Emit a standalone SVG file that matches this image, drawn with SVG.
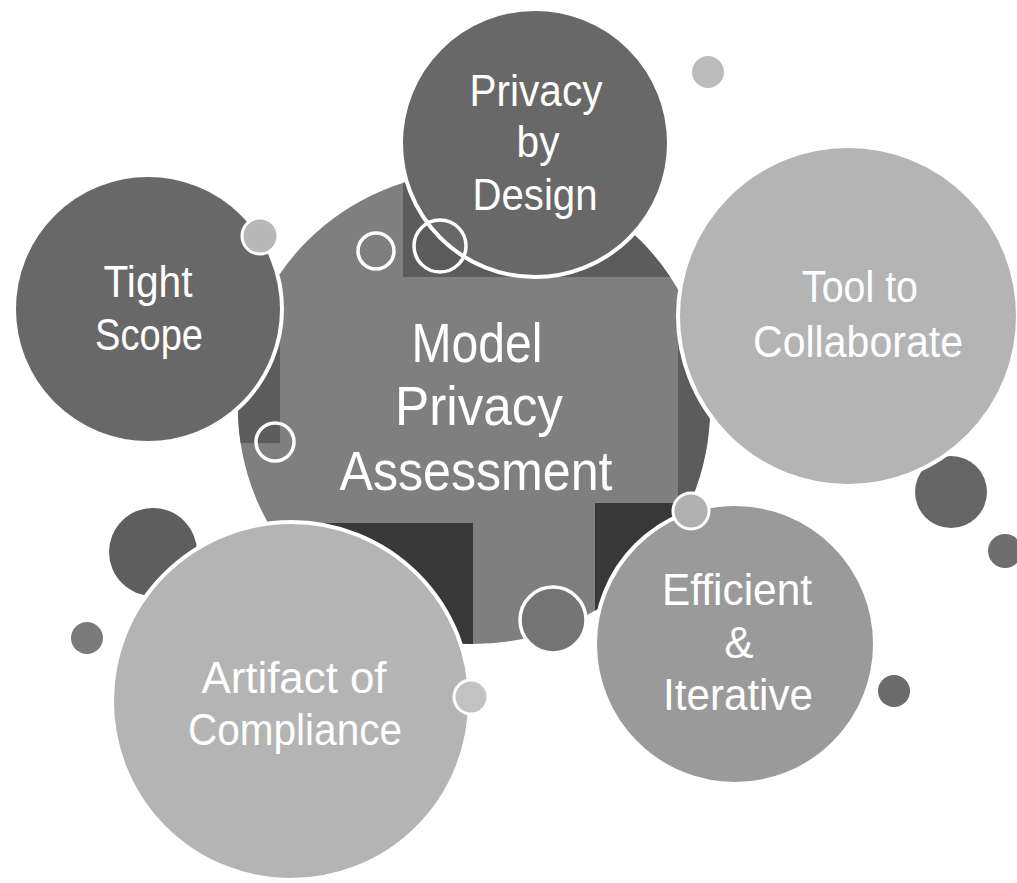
<svg xmlns="http://www.w3.org/2000/svg" width="1017" height="883" viewBox="0 0 1017 883">
  <style>
    .lbl { font-family: "Liberation Sans", Arial, sans-serif; fill: #ffffff; text-anchor: middle; }
    .big { font-size: 56px; }
    .mid { font-size: 44px; }
    .node { stroke: #ffffff; stroke-width: 4; }
    .ring { fill: none; stroke: #ffffff; stroke-width: 3.5; }
  </style>
  <defs>
    <clipPath id="coreClip">
      <circle cx="474" cy="408" r="236"/>
    </clipPath>
  </defs>
  <rect width="1017" height="883" fill="#ffffff"/>

  <g id="decor-back">
    <circle cx="153" cy="552" r="44" fill="#5e5e5e"/>
    <circle cx="87" cy="638" r="16" fill="#7a7a7a"/>
    <circle cx="951" cy="492" r="36" fill="#666666"/>
    <circle cx="1005" cy="551" r="17" fill="#6e6e6e"/>
    <circle cx="894" cy="691" r="16" fill="#6b6b6b"/>
    <circle cx="708" cy="72" r="16" fill="#bcbcbc"/>
  </g>

  <g id="core">
    <g clip-path="url(#coreClip)">
      <rect x="230" y="160" width="500" height="500" fill="#7f7f7f"/>
      <rect x="230" y="160" width="50" height="283" fill="#5c5c5c"/>
      <path d="M403 160 H730 V503 H678 V277 H403 Z" fill="#5c5c5c"/>
      <rect x="230" y="523" width="243" height="140" fill="#383838"/>
      <rect x="595" y="503" width="135" height="160" fill="#383838"/>
    </g>
    <text class="lbl big" x="477" y="362" textLength="131" lengthAdjust="spacingAndGlyphs">Model</text>
    <text class="lbl big" x="479" y="425" textLength="168" lengthAdjust="spacingAndGlyphs">Privacy</text>
    <text class="lbl big" x="476" y="490" textLength="273" lengthAdjust="spacingAndGlyphs">Assessment</text>
  </g>

  <g id="tight-scope">
    <circle class="node" cx="148" cy="309" r="134" fill="#686868"/>
    <text class="lbl mid" x="148" y="297" textLength="89" lengthAdjust="spacingAndGlyphs">Tight</text>
    <text class="lbl mid" x="149" y="350" textLength="108" lengthAdjust="spacingAndGlyphs">Scope</text>
  </g>

  <g id="privacy-by-design">
    <circle class="node" cx="535" cy="143" r="134" fill="#686868"/>
    <text class="lbl mid" x="536" y="106" textLength="133" lengthAdjust="spacingAndGlyphs">Privacy</text>
    <text class="lbl mid" x="538" y="157" textLength="43" lengthAdjust="spacingAndGlyphs">by</text>
    <text class="lbl mid" x="535" y="210" textLength="125" lengthAdjust="spacingAndGlyphs">Design</text>
  </g>

  <g id="tool-to-collaborate">
    <circle class="node" cx="848" cy="316" r="170" fill="#b4b4b4"/>
    <text class="lbl mid" x="860" y="302" textLength="116" lengthAdjust="spacingAndGlyphs">Tool to</text>
    <text class="lbl mid" x="858" y="357" textLength="210" lengthAdjust="spacingAndGlyphs">Collaborate</text>
  </g>

  <g id="artifact-of-compliance">
    <circle class="node" cx="291" cy="701" r="179" fill="#b4b4b4"/>
    <text class="lbl mid" x="294" y="693" textLength="185" lengthAdjust="spacingAndGlyphs">Artifact of</text>
    <text class="lbl mid" x="295" y="745" textLength="214" lengthAdjust="spacingAndGlyphs">Compliance</text>
  </g>

  <g id="efficient-iterative">
    <circle class="node" cx="735" cy="644" r="140" fill="#9a9a9a"/>
    <text class="lbl mid" x="737" y="605" textLength="150" lengthAdjust="spacingAndGlyphs">Efficient</text>
    <text class="lbl mid" x="739" y="658">&amp;</text>
    <text class="lbl mid" x="738" y="710" textLength="150" lengthAdjust="spacingAndGlyphs">Iterative</text>
  </g>

  <g id="decor-front">
    <circle class="ring" cx="376" cy="251" r="18"/>
    <circle class="ring" cx="440" cy="246" r="26"/>
    <circle class="ring" cx="275" cy="442" r="19"/>
    <circle cx="553" cy="620" r="33" fill="#747474" stroke="#ffffff" stroke-width="3.5"/>
    <circle cx="260" cy="236" r="18" fill="#b8b8b8" stroke="#ffffff" stroke-width="3"/>
    <circle cx="691" cy="511" r="18" fill="#b0b0b0" stroke="#ffffff" stroke-width="3"/>
    <circle cx="471" cy="697" r="17" fill="#c2c2c2" stroke="#ffffff" stroke-width="3"/>
  </g>

  <g id="connectors"></g>
</svg>
